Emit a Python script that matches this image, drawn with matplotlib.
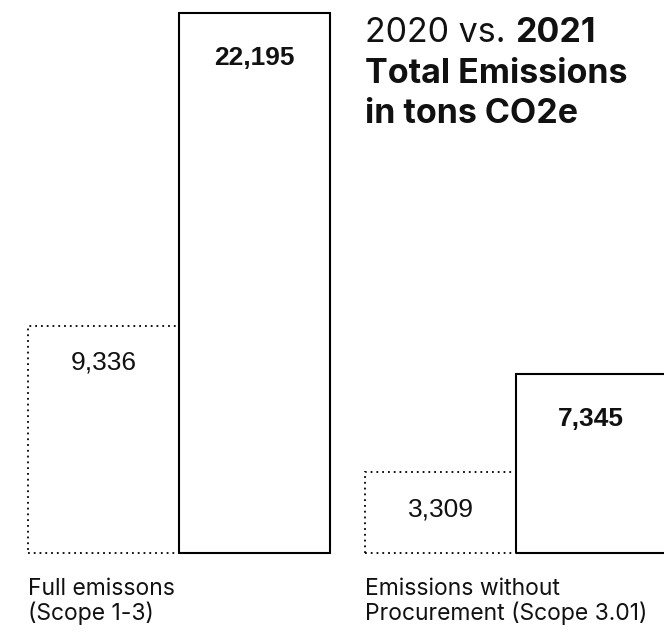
import matplotlib.pyplot as plt
import numpy as np

plt.rcParams['font.family'] = 'Inter'

categories = ['Full emissons\n(Scope 1-3)',
              'Emissions without\nProcurement (Scope 3.01)']
emissions_2020 = [9336, 3309]
emissions_2021 = [22195, 7345]

W, H = 664, 632
fig = plt.figure(figsize=(W / 100, H / 100), dpi=100)
ax = fig.add_axes([0, 79 / H, 1, 540 / H])
ax.set_xlim(-0.531, 1.439)
ax.set_ylim(0, max(emissions_2021))
ax.axis('off')

x = np.arange(len(categories))
w = 0.447

# 2020: dotted outline, left of each group centre
ax.bar(x - w / 2, emissions_2020, w, fill=False, edgecolor='black',
       linewidth=1.3, linestyle=(0, (1, 2.2)), clip_on=False)
# 2021: solid outline, right of each group centre
ax.bar(x + w / 2, emissions_2021, w, fill=False, edgecolor='black',
       linewidth=1.5, clip_on=False)

for xi, v in zip(x, emissions_2020):
    ax.annotate(f'{v:,}', xy=(xi - w / 2, v), xytext=(0, -26.5),
                textcoords='offset points', ha='center', va='center',
                fontsize=19, family='Liberation Sans', color='#111111')
for xi, v in zip(x, emissions_2021):
    ax.annotate(f'{v:,}', xy=(xi + w / 2, v), xytext=(0, -32.5),
                textcoords='offset points', ha='center', va='center',
                fontsize=19, family='Liberation Sans', fontweight='bold',
                color='#111111')

# category labels, left-aligned with the 2020 bar
for xi, lab in zip(x, categories):
    ax.annotate(lab, xy=(xi - w, 0), xytext=(0, -18),
                textcoords='offset points', ha='left', va='top',
                fontsize=16.5, linespacing=1.1, color='#111111')

# title
tx = 365 / W
fs = 24.5
t1 = fig.text(tx, 1 - 42 / H, '2020 vs. ', fontsize=fs, va='baseline',
              color='#111111')
ax.annotate('2021', xy=(1, 0), xycoords=t1, va='bottom', ha='left',
            fontsize=fs, fontweight='bold', color='#111111')
fig.text(tx, 1 - 83 / H, 'Total Emissions', fontsize=fs, va='baseline',
         fontweight='bold', color='#111111')
fig.text(tx, 1 - 123 / H, 'in tons CO2e', fontsize=fs, va='baseline',
         fontweight='bold', color='#111111')

fig.savefig('out.png', dpi=100)
